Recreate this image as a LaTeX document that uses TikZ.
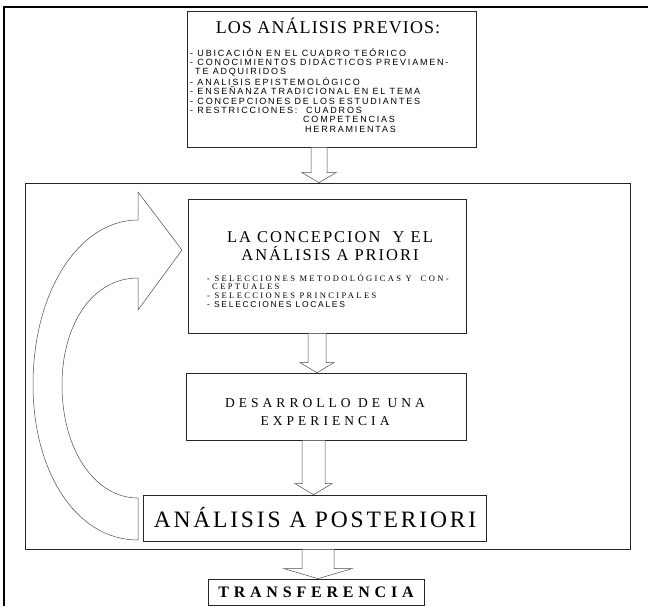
\documentclass[tikz,border=0pt]{standalone}
\usepackage{fontspec}
\setmainfont{Liberation Serif}
\newfontfamily\serifancha{Liberation Serif}[LetterSpace=6]
\newfontfamily\serifmedia{Liberation Serif}[LetterSpace=12]
\newfontfamily\serifmuyancha{Liberation Serif}[LetterSpace=30]
\newfontfamily\sanslista{Liberation Sans}[LetterSpace=20]
\newfontfamily\seriflista{Liberation Serif}[LetterSpace=28]
\usetikzlibrary{calc}

\tikzset{
  caja/.style={draw=black!85, line width=0.7pt, fill=white, inner sep=0pt},
  bloque/.style={draw=black!70, line width=0.5pt, fill=white},
  lista/.style={align=left, anchor=north west, inner sep=0pt, font=\sanslista\fontsize{9}{9.4}\selectfont},
  titulo/.style={align=center, inner sep=0pt},
}

% flecha de bloque hacia abajo: x, desde, hasta, medio ancho tallo, medio ancho punta, largo punta
\newcommand{\flechabaja}[6]{%
  \draw[bloque] let \p1=(#2), \p2=(#3) in
    ({#1pt-#4pt},\y1) -- ({#1pt+#4pt},\y1) -- ({#1pt+#4pt},\y2+#6pt) -- ({#1pt+#5pt},\y2+#6pt)
    -- (#1pt,\y2) -- ({#1pt-#5pt},\y2+#6pt) -- ({#1pt-#4pt},\y2+#6pt) -- cycle;}

\begin{document}
\begin{tikzpicture}[x=1pt, y=-1pt]
  \useasboundingbox (0,0) rectangle (648,606);
  % marco exterior
  \draw[line width=2pt] (4,606) -- (4,7) -- (648,7);

  % marco interior
  \node[caja, minimum width=605pt, minimum height=366pt] (marco) at (327.5,366) {};

  % analisis previos
  \node[caja, minimum width=289pt, minimum height=136pt] (previos) at (331.5,79) {};
  \node[titulo, font=\serifancha\fontsize{18}{20}\selectfont] (tprevios) at (328,26) {LOS ANÁLISIS PREVIOS:};
  \node[lista] (lprevios) at (190,48) {%
    - UBICACIÓN EN EL CUADRO TEÓRICO\\
    - CONOCIMIENTOS DIDÁCTICOS PREVIAMEN-\\
    \hspace*{5pt}TE ADQUIRIDOS\\
    - ANALISIS EPISTEMOLÓGICO\\
    - ENSEÑANZA TRADICIONAL EN EL TEMA\\
    - CONCEPCIONES DE LOS ESTUDIANTES\\
    - RESTRICCIONES:\ \ CUADROS\\
    \hspace*{113pt}COMPETENCIAS\\
    \hspace*{115pt}HERRAMIENTAS};

  % concepcion y analisis a priori
  \node[caja, minimum width=278pt, minimum height=134pt] (priori) at (327,266) {};
  \node[titulo, font=\serifmedia\fontsize{16.5}{18.5}\selectfont] (tpriori) at (330,246) {LA CONCEPCION \ Y EL\\ANÁLISIS A PRIORI};
  \node[lista, font=\seriflista\fontsize{8.5}{8.7}\selectfont] (lpriori) at (207,273.5) {%
    - SELECCIONES METODOLÓGICAS Y \ CON-\\
    \hspace*{5pt}CEPTUALES\\
    - SELECCIONES PRINCIPALES\\
    {\sanslista\fontsize{8.5}{8.7}\selectfont - SELECCIONES LOCALES}};

  % desarrollo
  \node[caja, minimum width=280pt, minimum height=67pt] (desarrollo) at (326,406.5) {};
  \node[titulo, font=\serifmuyancha\fontsize{13.5}{18}\selectfont] (tdesarrollo) at (325,412) {DESARROLLO DE UNA\\EXPERIENCIA};

  % analisis a posteriori
  \node[caja, minimum width=343pt, minimum height=46pt, font=\serifmedia\fontsize{23.5}{26}\selectfont] (posteriori) at (315,518) {ANÁLISIS A POSTERIORI};

  % transferencia
  \node[caja, minimum width=216pt, minimum height=26pt, font=\serifmuyancha\bfseries\fontsize{16}{18}\selectfont] (transferencia) at (316,592) {TRANSFERENCIA};

  % flechas
  \flechabaja{319}{previos.south}{marco.north}{8}{17}{10}
  \flechabaja{317}{priori.south}{desarrollo.north}{9}{17}{10}
  \flechabaja{313.5}{desarrollo.south}{posteriori.north}{11.5}{18.5}{11}
  \flechabaja{318}{marco.south}{transferencia.north}{16}{34}{10}

  % flecha curva de retorno
  \draw[bloque] (138,540) .. controls (75,540) and (33,470) .. (33,385)
    .. controls (33,290) and (80,220) .. (138,220) -- (138,192) -- (182,250) -- (138,310) -- (138,278)
    .. controls (92,278) and (62,325) .. (62,385)
    .. controls (62,450) and (95,498) .. (138,498) -- cycle;
\end{tikzpicture}
\end{document}
